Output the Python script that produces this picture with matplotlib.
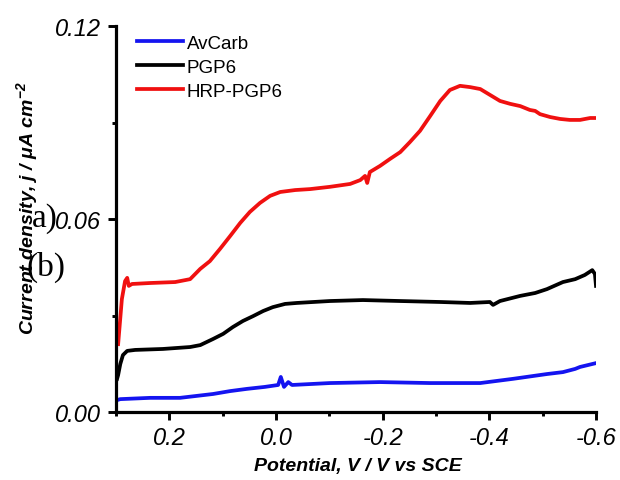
import matplotlib
matplotlib.use("Agg")
import matplotlib.pyplot as plt
from matplotlib.ticker import MultipleLocator

plt.rcParams['font.family'] = ['Liberation Sans', 'DejaVu Sans']
plt.rcParams['mathtext.fontset'] = 'custom'
plt.rcParams['mathtext.rm'] = 'Liberation Sans:bold:italic'
plt.rcParams['mathtext.it'] = 'Liberation Sans:bold:italic'
plt.rcParams['mathtext.bf'] = 'Liberation Sans:bold:italic'

# ---- data ----
hrp_x = [0.296, 0.289, 0.283, 0.279, 0.276, 0.270, 0.236, 0.189, 0.161, 0.142,
         0.124, 0.105, 0.086, 0.067, 0.049, 0.030, 0.011, -0.008, -0.036, -0.064,
         -0.101, -0.139, -0.158, -0.167, -0.171, -0.176, -0.195, -0.214, -0.233,
         -0.251, -0.270, -0.289, -0.308, -0.326, -0.345, -0.364, -0.383, -0.401,
         -0.420, -0.439, -0.458, -0.476, -0.486, -0.495, -0.514, -0.533, -0.551,
         -0.570, -0.589, -0.600]
hrp_y = [0.0211, 0.0351, 0.0407, 0.0417, 0.0392, 0.0398, 0.0401, 0.0404, 0.0413, 0.0445,
         0.0469, 0.0507, 0.0547, 0.0588, 0.0622, 0.0650, 0.0672, 0.0684, 0.0690, 0.0693,
         0.0700, 0.0709, 0.0721, 0.0734, 0.0712, 0.0746, 0.0765, 0.0787, 0.0808,
         0.0839, 0.0874, 0.0920, 0.0967, 0.1001, 0.1014, 0.1010, 0.1004, 0.0986,
         0.0967, 0.0958, 0.0951, 0.0939, 0.0936, 0.0926, 0.0917, 0.0911, 0.0908,
         0.0908, 0.0914, 0.0914]

pgp_x = [0.298, 0.296, 0.292, 0.287, 0.279, 0.264, 0.212, 0.161, 0.142, 0.118,
         0.099, 0.081, 0.062, 0.043, 0.024, 0.006, -0.017, -0.039, -0.101, -0.163,
         -0.233, -0.308, -0.364, -0.401, -0.407, -0.420, -0.458, -0.486, -0.508,
         -0.538, -0.561, -0.579, -0.593, -0.598, -0.600]
pgp_y = [0.0103, 0.0115, 0.0149, 0.0177, 0.0190, 0.0193, 0.0196, 0.0202, 0.0208, 0.0227,
         0.0243, 0.0264, 0.0283, 0.0298, 0.0314, 0.0326, 0.0336, 0.0339, 0.0345, 0.0348,
         0.0345, 0.0342, 0.0339, 0.0342, 0.0333, 0.0345, 0.0361, 0.0370, 0.0382,
         0.0404, 0.0413, 0.0426, 0.0441, 0.0429, 0.0392]

av_x = [0.298, 0.292, 0.236, 0.180, 0.118, 0.086, 0.054, 0.021, -0.004, -0.009,
        -0.015, -0.023, -0.030, -0.101, -0.195, -0.289, -0.383, -0.444, -0.508,
        -0.538, -0.561, -0.570, -0.600]
av_y = [0.0037, 0.0040, 0.0044, 0.0044, 0.0056, 0.0065, 0.0072, 0.0078, 0.0084, 0.0109,
        0.0078, 0.0093, 0.0084, 0.0090, 0.0093, 0.0090, 0.0090, 0.0103, 0.0118,
        0.0124, 0.0134, 0.0140, 0.0152]

series_labels = ['AvCarb', 'PGP6', 'HRP-PGP6']
x_ticks = [0.2, 0.0, -0.2, -0.4, -0.6]
x_tick_labels = ['0.2', '0.0', '-0.2', '-0.4', '-0.6']
y_ticks = [0.00, 0.06, 0.12]
y_tick_labels = ['0.00', '0.06', '0.12']

fig = plt.figure(figsize=(6.2, 4.81), dpi=100)
ax = fig.add_axes([116/620, 1-413/481, 480/620, 386/481])

lw = 2.7
ax.plot(av_x, av_y, color='#1414f0', lw=lw, label=series_labels[0])
ax.plot(pgp_x, pgp_y, color='black', lw=lw, label=series_labels[1])
ax.plot(hrp_x, hrp_y, color='#f01010', lw=lw, label=series_labels[2])

ax.set_xlim(0.3, -0.6)
ax.set_ylim(0.0, 0.12)
ax.set_xticks(x_ticks)
ax.set_xticklabels(x_tick_labels, fontstyle='italic', fontsize=17)
ax.set_yticks(y_ticks)
ax.set_yticklabels(y_tick_labels, fontstyle='italic', fontsize=17)
ax.xaxis.set_minor_locator(MultipleLocator(0.1))
ax.yaxis.set_minor_locator(MultipleLocator(0.03))

for s in ['top', 'right']:
    ax.spines[s].set_visible(False)
for s in ['left', 'bottom']:
    ax.spines[s].set_linewidth(2.3)
ax.tick_params(which='major', direction='out', length=6, width=2.1, pad=4)
ax.tick_params(axis='y', which='major', pad=5)
ax.tick_params(which='minor', direction='out', length=3, width=2.1)

ax.set_xlabel('Potential, V / V vs SCE', fontsize=14, fontweight='bold', fontstyle='italic')
ax.set_ylabel('Current density, j / μA cm$^{-2}$', fontsize=14, fontweight='bold', fontstyle='italic')
ax.xaxis.set_label_coords(0.504, -0.117)
ax.yaxis.set_label_coords(-0.158, 0.531)

leg = ax.legend(loc='upper left', bbox_to_anchor=(0.044, 0.977), frameon=False,
                fontsize=13.5, handlelength=2.45, handletextpad=0.2, labelspacing=0.36,
                borderpad=0, borderaxespad=0)

fig.text(32/620, 1-219/481, 'a)', fontsize=24, family='Liberation Serif', va='center', ha='left')
fig.text(26/620, 1-267/481, '(b)', fontsize=24, family='Liberation Serif', va='center', ha='left')

fig.savefig('out.png', dpi=100)
